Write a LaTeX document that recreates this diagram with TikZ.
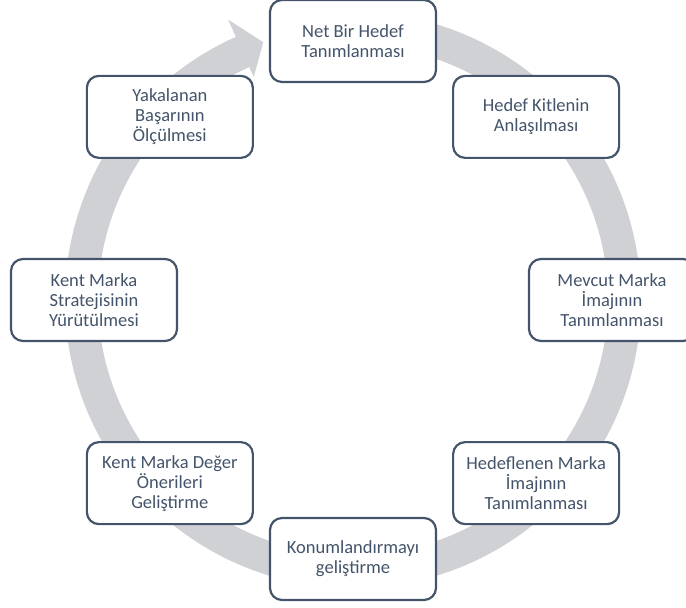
\documentclass[tikz,border=0pt]{standalone}
\usepackage{fontspec}
\setmainfont{Carlito}
\usepackage{xcolor}
\definecolor{slate}{RGB}{68,84,106}
\definecolor{ringgray}{RGB}{207,209,213}

\begin{document}
\begin{tikzpicture}[x=1pt, y=1pt,
	stage/.style={draw=slate, line width=2.2pt, fill=white, rounded corners=12pt,
		minimum width=166pt, minimum height=82pt, align=center, text=slate,
		font=\fontsize{18.5}{20}\selectfont}]
	\useasboundingbox (-353,300) rectangle (333,-308);
	% grey ring with the arrow head
	\fill[ringgray] (95:288) arc[start angle=95, end angle=-246, radius=288]
		-- (114:307) -- (109.2:273) -- (114:244) -- (114:255)
		arc[start angle=-246, end angle=95, radius=255] -- cycle;
	% the eight stages
	\foreach \a/\t [count=\i] in {
		90/{Net Bir Hedef\\Tanımlanması},
		45/{Hedef Kitlenin\\Anlaşılması},
		0/{Mevcut Marka\\İmajının\\Tanımlanması},
		-45/{Hedeflenen Marka\\İmajının\\Tanımlanması},
		-90/{Konumlandırmayı\\geliştirme},
		-135/{Kent Marka Değer\\Önerileri\\Geliştirme},
		180/{Kent Marka\\Stratejisinin\\Yürütülmesi},
		135/{Yakalanan\\Başarının\\Ölçülmesi}}{
		\node[stage] (s\i) at (\a:259) {\t};
		};
\end{tikzpicture}
\end{document}
